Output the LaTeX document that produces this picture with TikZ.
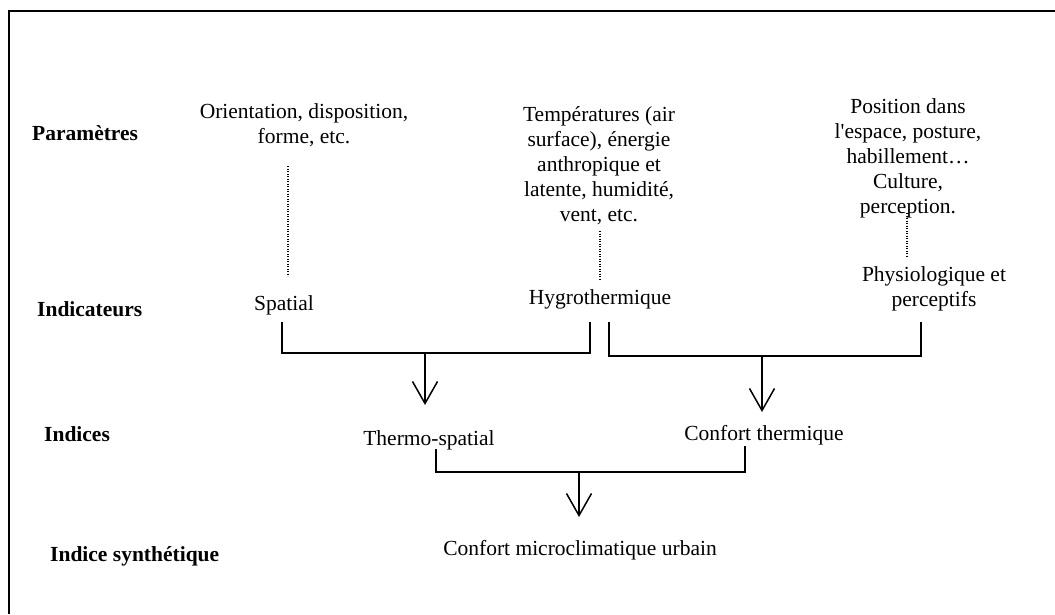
\documentclass[tikz,border=0pt]{standalone}
\usepackage{fontspec}
\setmainfont{Liberation Serif}
\usepackage{tikz}
\usetikzlibrary{arrows.meta, positioning}

\begin{document}
\begin{tikzpicture}[
  x=1pt, y=-1pt,
  every node/.style={inner sep=0pt, font=\fontsize{21.5}{25}\selectfont},
  level/.style={anchor=west, font=\fontsize{21.5}{25}\selectfont\bfseries},
  txt/.style={align=center},
  bar/.style={line width=1.7pt},
  dots/.style={line width=1.2pt, dash pattern=on 1.2pt off 1.3pt},
  arrow/.style={line width=1.5pt, -{Straight Barb[length=22pt, width=25pt]}}
]
\useasboundingbox (0,0) rectangle (1055,614);
\draw[line width=1.7pt] (9,614) -- (9,11) -- (1055,11);

\node[level] (param) at (32,133) {Paramètres};
\node[level] (indic) at (37,309) {Indicateurs};
\node[level] (indices) at (44,434) {Indices};
\node[level] (synth) at (50,556) {Indice synthétique};

\node[txt] (orient) at (304,125) {Orientation, disposition,\\forme, etc.};
\node[txt] (temp) at (599,166) {Températures (air\\surface), énergie\\anthropique et\\latente, humidité,\\vent, etc.};
\node[txt] (pos) at (908,158) {Position dans\\l\textquotesingle espace, posture,\\habillement…\\Culture,\\perception.};

\node (spatial) at (284,305) {Spatial};
\node (hygro) at (600,299) {Hygrothermique};
\node[txt] (physio) at (934,289) {Physiologique et\\perceptifs};

\node (thermo) at (429,440) {Thermo-spatial};
\node (confort) at (764,435) {Confort thermique};
\node (urbain) at (580,550) {Confort microclimatique urbain};

\coordinate (d1a) at (288,166);
\coordinate (d1b) at (288,276);
\coordinate (d2a) at (600,231);
\coordinate (d2b) at (600,279);
\coordinate (d3a) at (907,213);
\coordinate (d3b) at (907,256);
\draw[dots] (d1a) -- (d1b);
\draw[dots] (d2a) -- (d2b);
\draw[dots] (d3a) -- (d3b);

\coordinate (b1l) at (282,322);
\coordinate (b1r) at (590,322);
\coordinate (b2l) at (609,322);
\coordinate (b2r) at (921,322);
\coordinate (b3l) at (436,449);
\coordinate (b3r) at (745,446);
\draw[bar] (b1l) -- ++(0,31) -| (b1r);
\draw[bar] (b2l) -- ++(0,34) -| (b2r);
\draw[bar] (b3l) -- ++(0,23) -| (b3r);

\coordinate (m1) at (425,353);
\coordinate (t1) at (425,405);
\coordinate (m2) at (762,356);
\coordinate (t2) at (762,412);
\coordinate (m3) at (579,472);
\coordinate (t3) at (579,517);
\draw[arrow] (m1) -- (t1);
\draw[arrow] (m2) -- (t2);
\draw[arrow] (m3) -- (t3);
\end{tikzpicture}
\end{document}
